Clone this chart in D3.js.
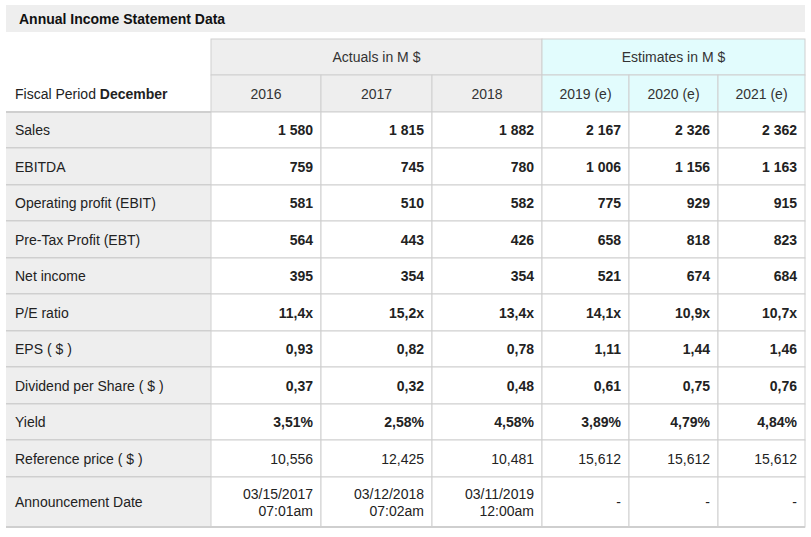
<!DOCTYPE html>
<html><head><meta charset="utf-8">
<script src="https://cdn.jsdelivr.net/npm/d3@7"></script>
<style>body{margin:0;background:#fff;} svg text{font-family:'Liberation Sans','Arimo',Arial,sans-serif;}</style>
</head><body><svg id="t" width="811" height="537" font-family="Liberation Sans"></svg>
<script>
const title = 'Annual Income Statement Data';
const years = ['2016', '2017', '2018', '2019 (e)', '2020 (e)', '2021 (e)'];
const rowLabels = ['Sales', 'EBITDA', 'Operating profit (EBIT)', 'Pre-Tax Profit (EBT)', 'Net income',
  'P/E ratio', 'EPS ( $ )', 'Dividend per Share ( $ )', 'Yield', 'Reference price ( $ )', 'Announcement Date'];
const values = [
  ['1 580', '1 815', '1 882', '2 167', '2 326', '2 362'],
  ['759', '745', '780', '1 006', '1 156', '1 163'],
  ['581', '510', '582', '775', '929', '915'],
  ['564', '443', '426', '658', '818', '823'],
  ['395', '354', '354', '521', '674', '684'],
  ['11,4x', '15,2x', '13,4x', '14,1x', '10,9x', '10,7x'],
  ['0,93', '0,82', '0,78', '1,11', '1,44', '1,46'],
  ['0,37', '0,32', '0,48', '0,61', '0,75', '0,76'],
  ['3,51%', '2,58%', '4,58%', '3,89%', '4,79%', '4,84%'],
  ['10,556', '12,425', '10,481', '15,612', '15,612', '15,612'],
  ['03/15/2017|07:01am', '03/12/2018|07:02am', '03/11/2019|12:00am', '-', '-', '-']
];
const boldRows = 9; // first 9 rows are bold

const svg = d3.select('#t');
const colEdges = [6, 211, 321, 432, 542, 629, 718, 805];
const rowEdges = [112, 148, 185, 221, 258, 294, 331, 367, 404, 440, 477, 527];
const border = '#cfcfcf';

// title bar
svg.append('rect').attr('x', 6).attr('y', 5).attr('width', 799).attr('height', 27).attr('fill', '#eeeeee');
svg.append('text').attr('x', 19).attr('y', 24).attr('font-size', 14).attr('font-weight', 'bold')
  .attr('fill', '#111').text(title);

// group headers
const groups = [
  {label: 'Actuals in M $', x0: colEdges[1], x1: colEdges[4], fill: '#eeeeee'},
  {label: 'Estimates in M $', x0: colEdges[4], x1: colEdges[7], fill: '#e2fcfd'}
];
groups.forEach(g => {
  svg.append('rect').attr('x', g.x0).attr('y', 39).attr('width', g.x1 - g.x0).attr('height', 36)
    .attr('fill', g.fill).attr('stroke', border);
  svg.append('text').attr('x', (g.x0 + g.x1) / 2).attr('y', 62).attr('text-anchor', 'middle')
    .attr('font-size', 14).attr('fill', '#333').text(g.label);
});

// year header row
years.forEach((y, i) => {
  const x0 = colEdges[i + 1], x1 = colEdges[i + 2];
  svg.append('rect').attr('x', x0).attr('y', 75).attr('width', x1 - x0).attr('height', 37)
    .attr('fill', i < 3 ? '#eeeeee' : '#e2fcfd').attr('stroke', border);
  svg.append('text').attr('x', (x0 + x1) / 2).attr('y', 99).attr('text-anchor', 'middle')
    .attr('font-size', 14).attr('fill', '#333').text(y);
});
const fp = svg.append('text').attr('x', 15).attr('y', 99).attr('font-size', 14).attr('fill', '#222');
fp.append('tspan').text('Fiscal Period ');
fp.append('tspan').attr('font-weight', 'bold').text('December');

// body rows
rowLabels.forEach((lab, r) => {
  const y0 = rowEdges[r], y1 = rowEdges[r + 1], ym = (y0 + y1) / 2;
  svg.append('rect').attr('x', colEdges[0]).attr('y', y0).attr('width', colEdges[1] - colEdges[0])
    .attr('height', y1 - y0).attr('fill', '#eeeeee');
  svg.append('text').attr('x', 15).attr('y', ym + 5).attr('font-size', 14).attr('fill', '#222').text(lab);
  values[r].forEach((v, i) => {
    const x0 = colEdges[i + 1], x1 = colEdges[i + 2];
    svg.append('rect').attr('x', x0).attr('y', y0).attr('width', x1 - x0).attr('height', y1 - y0)
      .attr('fill', '#fff').attr('stroke', border);
    const lines = v.split('|');
    const t = svg.append('text').attr('text-anchor', 'end').attr('font-size', 14)
      .attr('font-weight', r < boldRows ? 'bold' : 'normal').attr('fill', '#222');
    lines.forEach((l, k) => t.append('tspan').attr('x', x1 - 8)
      .attr('y', ym + 5 + (k - (lines.length - 1) / 2) * 17).text(l));
  });
  svg.append('line').attr('x1', colEdges[0]).attr('x2', colEdges[1]).attr('y1', y1).attr('y2', y1)
    .attr('stroke', border).attr('stroke-width', 2);
  svg.append('line').attr('x1', colEdges[0]).attr('x2', colEdges[1]).attr('y1', y0).attr('y2', y0)
    .attr('stroke', border).attr('stroke-width', r === 0 ? 2 : 1);
});
svg.append('line').attr('x1', colEdges[0]).attr('x2', colEdges[7]).attr('y1', 527).attr('y2', 527)
  .attr('stroke', border).attr('stroke-width', 2);
</script></body></html>
